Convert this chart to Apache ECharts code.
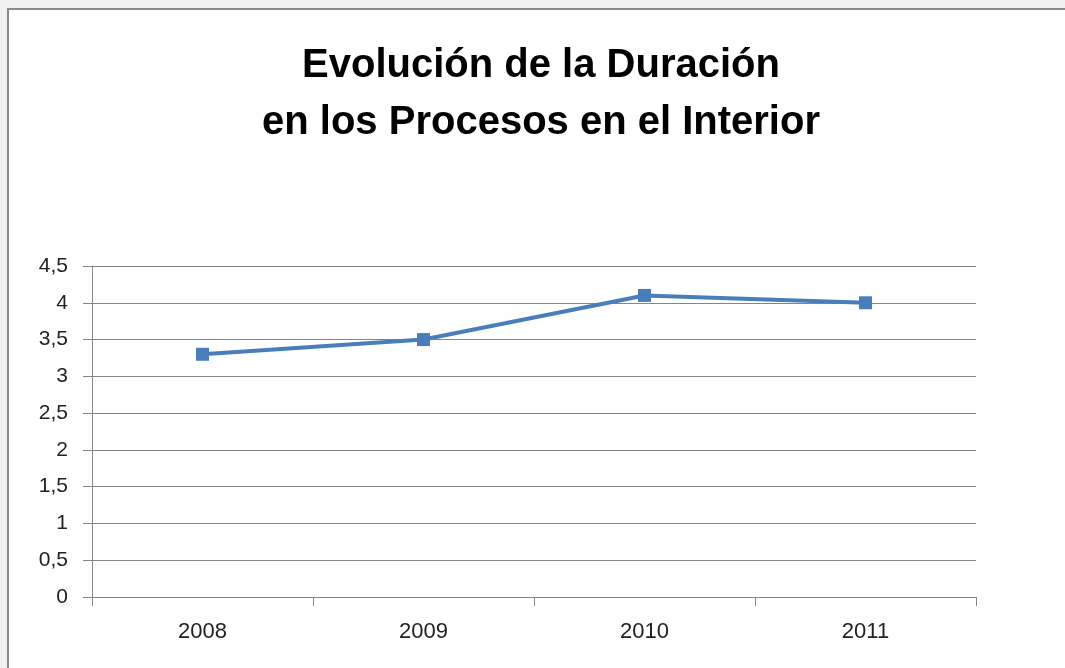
<!DOCTYPE html>
<html>
<head>
<meta charset="utf-8">
<script src="https://cdn.jsdelivr.net/npm/echarts@6/dist/echarts.min.js"></script>
<style>
html, body { margin: 0; padding: 0; background: #f0f0f0; overflow: hidden; }
#container { position: absolute; left: 7px; top: 8px; width: 1064px; height: 700px; background: #fff; border: 2px solid #8a8a8a; }
</style>
</head>
<body>
<div id="container"></div>
<script>
var years = ['2008', '2009', '2010', '2011'];
var duracion = [3.3, 3.5, 4.1, 4.0];
var titleText = 'Evolución de la Duración\nen los Procesos en el Interior';

var dom = document.getElementById("container");
var myChart = echarts.init(dom);
var axisGray = '#868686';
var labelFont = '"Liberation Sans", Arial, sans-serif';

var option = {
    backgroundColor: '#fff',
    animation: false,
    title: {
        text: titleText,
        left: 'center',
        top: 22,
        textStyle: {
            fontFamily: labelFont,
            fontSize: 40,
            fontWeight: 'bold',
            color: '#000',
            lineHeight: 57
        }
    },
    grid: {
        left: 83,
        top: 256,
        width: 884,
        height: 331
    },
    xAxis: {
        type: 'category',
        boundaryGap: true,
        data: years,
        axisLine: { lineStyle: { color: axisGray, width: 1 } },
        axisTick: { show: true, length: 9, lineStyle: { color: axisGray } },
        axisLabel: { color: '#222', fontSize: 22, fontFamily: labelFont, margin: 24 }
    },
    yAxis: {
        type: 'value',
        min: 0,
        max: 4.5,
        interval: 0.5,
        axisLine: { show: true, lineStyle: { color: axisGray, width: 1 } },
        axisTick: { show: true, length: 9, lineStyle: { color: axisGray } },
        splitLine: { show: true, lineStyle: { color: axisGray, width: 1 } },
        axisLabel: {
            color: '#222',
            fontSize: 21,
            fontFamily: labelFont,
            margin: 24,
            formatter: function (v) { return String(v).replace('.', ','); }
        }
    },
    series: [
        {
            name: 'Duración',
            type: 'line',
            data: duracion,
            symbol: 'rect',
            symbolSize: 13,
            itemStyle: { color: '#4a7ebb' },
            lineStyle: { color: '#4a7ebb', width: 4 }
        }
    ]
};
myChart.setOption(option, true);
</script>
</body>
</html>
